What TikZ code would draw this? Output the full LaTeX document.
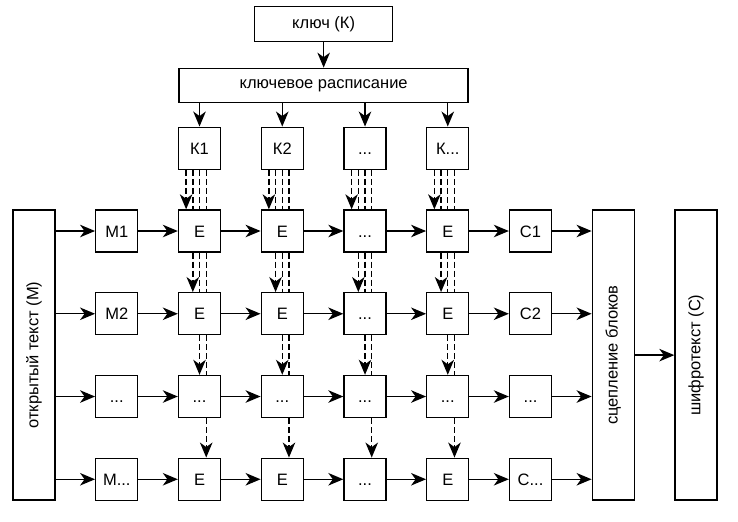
\documentclass[tikz,border=0pt]{standalone}
\usepackage{fontspec}
\usepackage{graphicx}
\setmainfont{Liberation Sans}
\usetikzlibrary{arrows.meta}

\tikzset{
    blk/.style={draw, minimum width=42pt, minimum height=42pt, inner sep=0pt},
    cell/.style={blk, text height=12pt, text depth=0pt},
    arr/.style={-{Stealth[length=15pt,width=12.5pt,inset=4.5pt]}},
    keyline/.style={dash pattern=on 6pt off 3pt},
}

\begin{document}
\begin{tikzpicture}[x=82.75pt,y=-82.75pt]
    \useasboundingbox (-0.411,-2.7915) rectangle (8.507,3.5045);
    \begin{scope}[line width=1.4pt,font=\fontsize{16.5}{20}\selectfont]

    % key and schedule
    \node[blk, minimum width=138pt, minimum height=35pt] (key) at (3.5,-2.5) {ключ (К)};
    \node[blk, minimum width=289pt, minimum height=34pt] (sched) at (3.5,-1.76) {ключевое расписание};
    \draw[arr] (key) -- (sched);

    \node[cell] (k1) at (2,-1) {К1};
    \node[cell] (k2) at (3,-1) {К2};
    \node[cell] (k3) at (4,-1) {...};
    \node[cell] (k4) at (5,-1) {К...};

    % side boxes
    \node[blk, minimum height=290pt] (plain) at (0,1.5) {\rotatebox{90}{открытый текст (M)}};
    \node[blk, minimum height=290pt] (chain) at (7,1.5) {\rotatebox{90}{сцепление блоков}};
    \node[blk, minimum height=290pt] (cipher) at (8,1.5) {\rotatebox{90}{шифротекст (C)}};
    \draw[arr] (chain) -- (cipher);

    % rows of blocks
    \node[cell] (m1) at (1,0) {M1};
    \node[cell] (e11) at (2,0) {E};
    \node[cell] (e12) at (3,0) {E};
    \node[cell] (e13) at (4,0) {...};
    \node[cell] (e14) at (5,0) {E};
    \node[cell] (c1) at (6,0) {C1};

    \node[cell] (m2) at (1,1) {M2};
    \node[cell] (e21) at (2,1) {E};
    \node[cell] (e22) at (3,1) {E};
    \node[cell] (e23) at (4,1) {...};
    \node[cell] (e24) at (5,1) {E};
    \node[cell] (c2) at (6,1) {C2};

    \node[cell] (m3) at (1,2) {...};
    \node[cell] (e31) at (2,2) {...};
    \node[cell] (e32) at (3,2) {...};
    \node[cell] (e33) at (4,2) {...};
    \node[cell] (e34) at (5,2) {...};
    \node[cell] (c3) at (6,2) {...};

    \node[cell] (m4) at (1,3) {M...};
    \node[cell] (e41) at (2,3) {E};
    \node[cell] (e42) at (3,3) {E};
    \node[cell] (e43) at (4,3) {...};
    \node[cell] (e44) at (5,3) {E};
    \node[cell] (c4) at (6,3) {C...};

    % data path
    \foreach \r in {1,...,4} {
        \draw[arr] (plain.east |- m\r) -- (m\r);
        \draw[arr] (m\r) -- (e\r1);
        \draw[arr] (e\r1) -- (e\r2);
        \draw[arr] (e\r2) -- (e\r3);
        \draw[arr] (e\r3) -- (e\r4);
        \draw[arr] (e\r4) -- (c\r);
        \draw[arr] (c\r) -- (c\r -| chain.west);
    }

    % round keys
    \foreach \c in {1,...,4} {
        \draw[arr] (sched.south -| k\c) -- (k\c);
        \draw[keyline,arr] ([xshift=-13.4pt]k\c.south) -- ([xshift=-13.4pt]e1\c.north);
        \draw[keyline] ([xshift=-6.7pt]k\c.south) -- ([xshift=-6.7pt]e1\c.north);
        \draw[keyline] (k\c.south) -- (e1\c.north);
        \draw[keyline] ([xshift=6.7pt]k\c.south) -- ([xshift=6.7pt]e1\c.north);
        \draw[keyline,arr] ([xshift=-6.7pt]e1\c.south) -- ([xshift=-6.7pt]e2\c.north);
        \draw[keyline] (e1\c.south) -- (e2\c.north);
        \draw[keyline] ([xshift=6.7pt]e1\c.south) -- ([xshift=6.7pt]e2\c.north);
        \draw[keyline,arr] (e2\c.south) -- (e3\c.north);
        \draw[keyline] ([xshift=6.7pt]e2\c.south) -- ([xshift=6.7pt]e3\c.north);
        \draw[keyline,arr] ([xshift=6.7pt]e3\c.south) -- ([xshift=6.7pt]e4\c.north);
    }

    \end{scope}
\end{tikzpicture}
\end{document}
